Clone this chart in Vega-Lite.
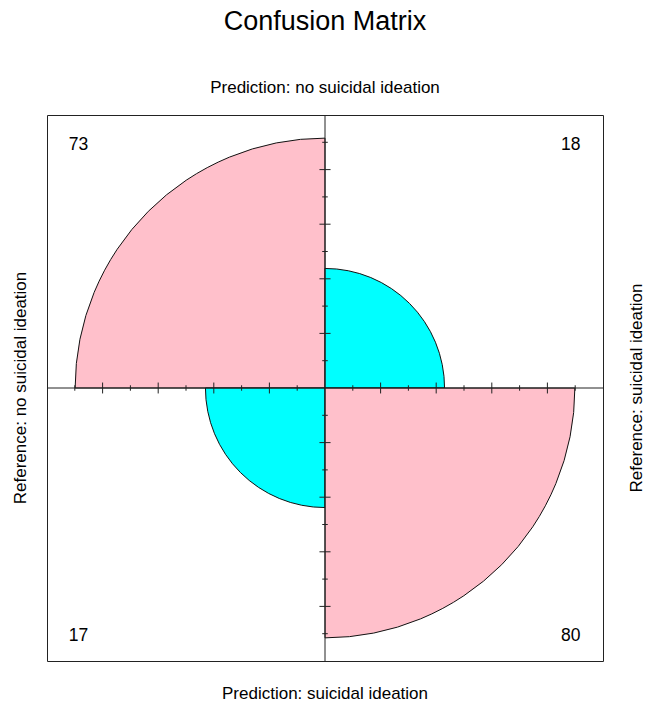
{
  "$schema": "https://vega.github.io/schema/vega-lite/v6.json",
  "width": 556,
  "height": 546,
  "autosize": {"type": "none"},
  "padding": {"left": 47, "top": 115, "right": 43, "bottom": 46},
  "background": "white",
  "title": {
    "text": "Confusion Matrix",
    "font": "Liberation Sans",
    "fontSize": 27,
    "fontWeight": "normal",
    "color": "black",
    "anchor": "middle",
    "offset": 43
  },
  "config": {
    "view": {"stroke": "#222", "strokeWidth": 1},
    "text": {"font": "Liberation Sans", "color": "black"}
  },
  "datasets": {
    "cells": [
      {"pred": "no suicidal ideation", "ref": "no suicidal ideation", "count": 73, "std": 0.8137},
      {"pred": "no suicidal ideation", "ref": "suicidal ideation", "count": 18, "std": 0.1863},
      {"pred": "suicidal ideation", "ref": "no suicidal ideation", "count": 17, "std": 0.1863},
      {"pred": "suicidal ideation", "ref": "suicidal ideation", "count": 80, "std": 0.8137}
    ],
    "ticks": [
      {"v": -0.9}, {"v": -0.8}, {"v": -0.7}, {"v": -0.6}, {"v": -0.5},
      {"v": -0.4}, {"v": -0.3}, {"v": -0.2}, {"v": -0.1},
      {"v": 0.1}, {"v": 0.2}, {"v": 0.3}, {"v": 0.4}, {"v": 0.5},
      {"v": 0.6}, {"v": 0.7}, {"v": 0.8}, {"v": 0.9}
    ]
  },
  "layer": [
    {
      "data": {"name": "cells"},
      "transform": [
        {"calculate": "datum.pred === 'no suicidal ideation' ? (datum.ref === 'no suicidal ideation' ? 3 : 0) : (datum.ref === 'no suicidal ideation' ? 2 : 1)", "as": "q0"},
        {"calculate": "datum.q0 + 1", "as": "q1"},
        {"calculate": "datum.pred === datum.ref ? 'agree' : 'disagree'", "as": "agreement"}
      ],
      "mark": {"type": "arc", "stroke": "#111", "strokeWidth": 1},
      "encoding": {
        "x": {"datum": 0, "type": "quantitative", "scale": {"domain": [-1, 1], "nice": false, "zero": false}, "axis": null},
        "y": {"datum": 0, "type": "quantitative", "scale": {"domain": [-1, 1], "nice": false, "zero": false}, "axis": null},
        "theta": {"field": "q0", "type": "quantitative", "stack": null, "scale": {"domain": [0, 4], "range": [0, 6.283185307179586]}},
        "theta2": {"field": "q1"},
        "radius": {"field": "std", "type": "quantitative", "scale": {"type": "sqrt", "domain": [0, 1], "range": [0, 277], "zero": true}},
        "color": {"field": "agreement", "type": "nominal", "scale": {"domain": ["agree", "disagree"], "range": ["#FFC0CB", "#00FFFF"]}, "legend": null}
      }
    },
    {
      "data": {"values": [{}]},
      "mark": {"type": "rule", "color": "#222", "strokeWidth": 1},
      "encoding": {
        "x": {"datum": 0, "type": "quantitative"},
        "y": {"datum": -1, "type": "quantitative"},
        "y2": {"datum": 1}
      }
    },
    {
      "data": {"values": [{}]},
      "mark": {"type": "rule", "color": "#222", "strokeWidth": 1},
      "encoding": {
        "y": {"datum": 0, "type": "quantitative"},
        "x": {"datum": -1, "type": "quantitative"},
        "x2": {"datum": 1}
      }
    },
    {
      "data": {"name": "ticks"},
      "transform": [
        {"calculate": "abs(round(datum.v * 10)) % 2 === 0 ? 0.02 : 0.01", "as": "half"},
        {"calculate": "-datum.half", "as": "lo"}
      ],
      "mark": {"type": "rule", "color": "#222", "strokeWidth": 1},
      "encoding": {
        "x": {"field": "v", "type": "quantitative"},
        "y": {"field": "lo", "type": "quantitative"},
        "y2": {"field": "half"}
      }
    },
    {
      "data": {"name": "ticks"},
      "transform": [
        {"calculate": "abs(round(datum.v * 10)) % 2 === 0 ? 0.02 : 0.01", "as": "half"},
        {"calculate": "-datum.half", "as": "lo"}
      ],
      "mark": {"type": "rule", "color": "#222", "strokeWidth": 1},
      "encoding": {
        "y": {"field": "v", "type": "quantitative"},
        "x": {"field": "lo", "type": "quantitative"},
        "x2": {"field": "half"}
      }
    },
    {
      "data": {"name": "cells"},
      "transform": [
        {"calculate": "datum.ref === 'no suicidal ideation' ? -0.887 : 0.884", "as": "lx"},
        {"calculate": "datum.pred === 'no suicidal ideation' ? 0.872 : -0.928", "as": "ly"}
      ],
      "mark": {"type": "text", "fontSize": 17.5, "align": "center", "baseline": "alphabetic"},
      "encoding": {
        "x": {"field": "lx", "type": "quantitative"},
        "y": {"field": "ly", "type": "quantitative"},
        "text": {"field": "count", "type": "quantitative"}
      }
    },
    {
      "data": {"values": [{}]},
      "mark": {"type": "text", "fontSize": 17, "align": "center", "baseline": "alphabetic", "text": "Prediction: no suicidal ideation"},
      "encoding": {
        "x": {"datum": 0, "type": "quantitative"},
        "y": {"datum": 1.0806, "type": "quantitative"}
      }
    },
    {
      "data": {"values": [{}]},
      "mark": {"type": "text", "fontSize": 17, "align": "center", "baseline": "alphabetic", "text": "Prediction: suicidal ideation"},
      "encoding": {
        "x": {"datum": 0, "type": "quantitative"},
        "y": {"datum": -1.1403, "type": "quantitative"}
      }
    },
    {
      "data": {"values": [{}]},
      "mark": {"type": "text", "fontSize": 17, "align": "center", "baseline": "alphabetic", "angle": 270, "text": "Reference: no suicidal ideation"},
      "encoding": {
        "x": {"datum": -1.0773, "type": "quantitative"},
        "y": {"datum": 0, "type": "quantitative"}
      }
    },
    {
      "data": {"values": [{}]},
      "mark": {"type": "text", "fontSize": 17, "align": "center", "baseline": "alphabetic", "angle": 270, "text": "Reference: suicidal ideation"},
      "encoding": {
        "x": {"datum": 1.1385, "type": "quantitative"},
        "y": {"datum": 0, "type": "quantitative"}
      }
    }
  ]
}
